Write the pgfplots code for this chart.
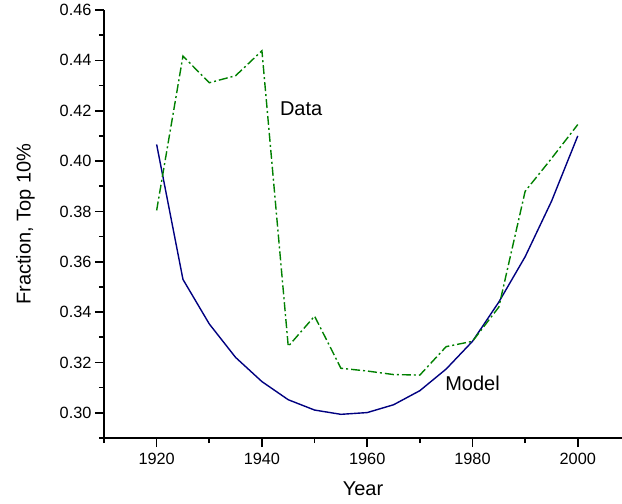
\documentclass[border=0pt]{standalone}
\usepackage{pgfplots}
\pgfplotsset{compat=1.18}
\usepackage{fontspec}
\setmainfont{Liberation Sans}
\definecolor{modelblue}{RGB}{0,0,128}
\definecolor{datagreen}{RGB}{0,128,0}
\begin{document}
\begin{tikzpicture}[x=1pt,y=1pt]
\begin{axis}[name=ax, at={(0,0)}, anchor=south west,
  scale only axis, width=518pt, height=428pt,
  xmin=1910, xmax=2008.4, ymin=0.29, ymax=0.46,
  axis lines=left,
  axis line style={-, line width=1.8pt, black},
  every outer x axis line/.append style={-, line width=1.8pt, black},
  every outer y axis line/.append style={-, line width=1.8pt, black},
  xtick={1920,1940,1960,1980,2000},
  minor xtick={1910,1930,1950,1970,1990},
  ytick={0.30,0.32,0.34,0.36,0.38,0.40,0.42,0.44,0.46},
  minor ytick={0.29,0.31,0.33,0.35,0.37,0.39,0.41,0.43,0.45},
  yticklabel style={/pgf/number format/.cd, fixed, fixed zerofill, precision=2},
  /pgf/number format/assume math mode=true,
  xticklabel style={/pgf/number format/1000 sep={}, yshift=-3pt},
  tick align=outside, tick pos=left,
  major tick length=9pt, minor tick length=5pt,
  major tick style={black, line width=1.6pt},
  minor tick style={black, line width=1.6pt},
  ticklabel style={font=\fontsize{16.3}{18}\selectfont},
  label style={font=\fontsize{20}{22}\selectfont},
  xlabel={Year}, ylabel={Fraction, Top 10\%},
  xlabel style={yshift=-10pt},
  ylabel style={yshift=18pt},
  clip=false,
]
\addplot[modelblue, line width=1.4pt] coordinates {
(1920,0.4066) (1925,0.353) (1930,0.3353) (1935,0.322) (1940,0.3124)
(1945,0.3052) (1950,0.3011) (1955,0.2994) (1960,0.3001) (1965,0.3032)
(1970,0.3088) (1975,0.3174) (1980,0.3284) (1985,0.344) (1990,0.362)
(1995,0.384) (2000,0.410)};
\addplot[datagreen, line width=1.4pt, dash pattern=on 9pt off 3pt on 2pt off 3pt] coordinates {
(1920,0.3804) (1925,0.4417) (1930,0.4311) (1935,0.4339) (1940,0.4438)
(1945,0.3264) (1950,0.3384) (1955,0.3177) (1960,0.3166) (1965,0.3152)
(1970,0.3150) (1975,0.3263) (1980,0.3284) (1985,0.342) (1990,0.388)
(1995,0.401) (2000,0.4145)};
\node[anchor=west, inner sep=0pt, font=\fontsize{20}{22}\selectfont] at (axis cs:1943.4,0.4207) {Data};
\node[anchor=west, inner sep=0pt, font=\fontsize{20}{22}\selectfont] at (axis cs:1974.8,0.3119) {Model};
\end{axis}
\pgfresetboundingbox
\path (-104,-66) rectangle (518,438);
\end{tikzpicture}
\end{document}
